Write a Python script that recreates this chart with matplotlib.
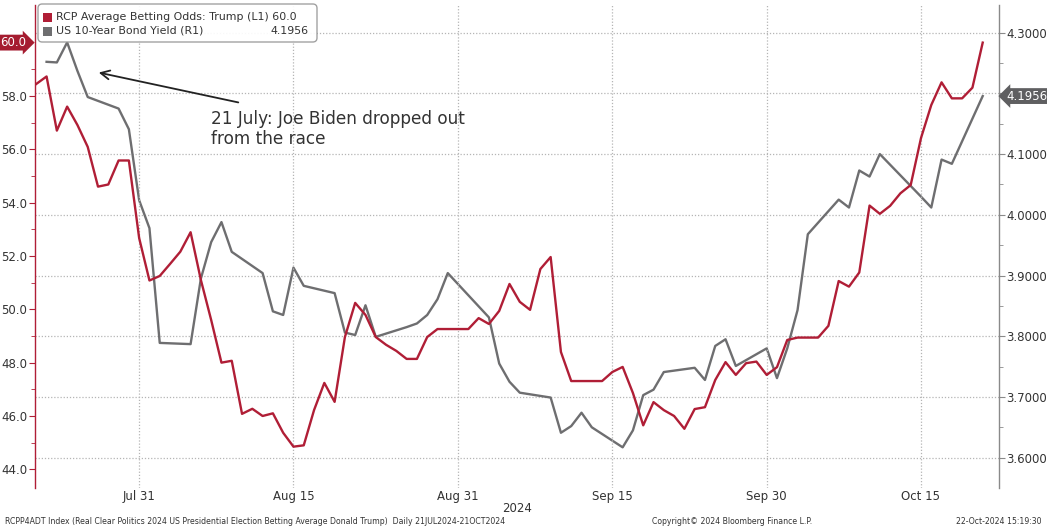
import matplotlib
matplotlib.use('Agg')
import matplotlib.pyplot as plt
import matplotlib.dates as mdates
import matplotlib.transforms as mtransforms
from matplotlib.patches import FancyBboxPatch, Rectangle
import pandas as pd

# RCP betting odds for Trump, daily 21 Jul - 21 Oct 2024
odds_start = "2024-07-21"
odds = [58.45, 58.73, 56.70, 57.60, 56.91, 56.09, 54.60, 54.68, 55.58, 55.58,
        52.67, 51.08, 51.25, 51.70, 52.16, 52.89, 51.10, 49.60, 48.00, 48.07,
        46.08, 46.27, 46.00, 46.10, 45.37, 44.85, 44.90, 46.22, 47.24, 46.53,
        48.96, 50.24, 49.79, 48.96, 48.67, 48.44, 48.14, 48.14, 48.96, 49.26,
        49.26, 49.26, 49.26, 49.67, 49.45, 49.94, 50.95, 50.28, 49.98, 51.51,
        51.96, 48.40, 47.31, 47.31, 47.31, 47.31, 47.65, 47.84, 46.86, 45.65,
        46.52, 46.22, 46.00, 45.52, 46.26, 46.33, 47.35, 48.02, 47.54, 47.98,
        48.04, 47.54, 47.83, 48.85, 48.94, 48.94, 48.94, 49.38, 51.06, 50.85,
        51.38, 53.89, 53.58, 53.88, 54.35, 54.66, 56.42, 57.66, 58.51, 57.91,
        57.91, 58.31, 60.00]

# US 10Y yield, trading days only
yield_dates = ["2024-07-22", "2024-07-23", "2024-07-24", "2024-07-25", "2024-07-26",
               "2024-07-29", "2024-07-30", "2024-07-31", "2024-08-01", "2024-08-02",
               "2024-08-05", "2024-08-06", "2024-08-07", "2024-08-08", "2024-08-09",
               "2024-08-12", "2024-08-13", "2024-08-14", "2024-08-15", "2024-08-16",
               "2024-08-19", "2024-08-20", "2024-08-21", "2024-08-22", "2024-08-23",
               "2024-08-26", "2024-08-27", "2024-08-28", "2024-08-29", "2024-08-30",
               "2024-09-03", "2024-09-04", "2024-09-05", "2024-09-06",
               "2024-09-09", "2024-09-10", "2024-09-11", "2024-09-12", "2024-09-13",
               "2024-09-16", "2024-09-17", "2024-09-18", "2024-09-19", "2024-09-20",
               "2024-09-23", "2024-09-24", "2024-09-25", "2024-09-26", "2024-09-27",
               "2024-09-30", "2024-10-01", "2024-10-02", "2024-10-03", "2024-10-04",
               "2024-10-07", "2024-10-08", "2024-10-09", "2024-10-10", "2024-10-11",
               "2024-10-15", "2024-10-16", "2024-10-17", "2024-10-18",
               "2024-10-21"]
yields = [4.252, 4.251, 4.284, 4.237, 4.194,
          4.175, 4.141, 4.024, 3.978, 3.789,
          3.787, 3.895, 3.955, 3.988, 3.939,
          3.904, 3.841, 3.835, 3.913, 3.883,
          3.871, 3.806, 3.802, 3.851, 3.799,
          3.815, 3.821, 3.835, 3.861, 3.904,
          3.831, 3.755, 3.725, 3.707,
          3.699, 3.641, 3.652, 3.674, 3.650,
          3.617, 3.645, 3.703, 3.712, 3.741,
          3.748, 3.728, 3.784, 3.795, 3.751,
          3.780, 3.731, 3.780, 3.843, 3.968,
          4.025, 4.012, 4.073, 4.063, 4.100,
          4.030, 4.012, 4.091, 4.084,
          4.1956]

xtick_dates = ["2024-07-31", "2024-08-15", "2024-08-31", "2024-09-15", "2024-09-30", "2024-10-15"]
left_ticks = [44, 46, 48, 50, 52, 54, 56, 58]
right_ticks = [3.6, 3.7, 3.8, 3.9, 4.0, 4.1, 4.2, 4.3]

RED = '#b01e36'
GRAY = '#6e6e70'
TXT = '#333333'
W, H = 1047, 531

odds_dates = pd.date_range(odds_start, periods=len(odds), freq='D')
ydates = pd.to_datetime(yield_dates)

fig = plt.figure(figsize=(W / 100, H / 100), dpi=100)
fig.patch.set_facecolor('white')
ax = fig.add_axes([35 / W, 1 - 488 / H, (999 - 35) / W, (488 - 5) / H])
ax2 = ax.twinx()
ax.set_zorder(ax2.get_zorder() + 1)
ax.patch.set_visible(False)

ax2.plot(ydates, yields, color=GRAY, lw=1.7)
ax.plot(odds_dates, odds, color=RED, lw=1.7)

x0 = pd.Timestamp("2024-07-21") - pd.Timedelta(hours=3)
x1 = pd.Timestamp("2024-10-21") + pd.Timedelta(hours=38)
ax.set_xlim(x0, x1)
ax.set_ylim(43.30, 61.41)
ax2.set_ylim(3.550, 4.3456)

# spines
for s in ['top', 'bottom', 'right']:
    ax.spines[s].set_visible(False)
    ax2.spines[s if s != 'right' else 'left'].set_visible(False)
ax.spines['left'].set_color(RED)
ax.spines['left'].set_linewidth(1.0)
ax2.spines['right'].set_color('#8a8a8a')
ax2.spines['right'].set_linewidth(1.0)

# x axis
ax.set_xticks(pd.to_datetime(xtick_dates))
ax.xaxis.set_major_formatter(mdates.DateFormatter('%b %d'))
ax.tick_params(axis='x', length=0, pad=1.5, labelsize=8.5, labelcolor=TXT)
ax.grid(axis='x', color='#b5b5b5', linestyle=(0, (1, 1.5)), lw=0.9)

# left axis
ax.set_yticks(left_ticks)
ax.set_yticks([45, 47, 49, 51, 53, 55, 57, 59], minor=True)
ax.set_yticklabels([f"{v:.1f}" for v in left_ticks])
ax.tick_params(axis='y', which='major', length=4, color=RED, labelsize=8.5,
               labelcolor=TXT, pad=1.5)
ax.tick_params(axis='y', which='minor', length=3, color=RED)

# right axis (4.2000 label sits under the last-value tag)
ax2.set_yticks(right_ticks)
ax2.set_yticks([3.65, 3.75, 3.85, 3.95, 4.05, 4.15, 4.25], minor=True)
ax2.set_yticklabels(["" if abs(v - 4.2) < 1e-9 else f"{v:.4f}" for v in right_ticks])
ax2.tick_params(axis='y', which='major', length=4, color='#8a8a8a', labelsize=8.5,
                labelcolor=TXT, pad=1.5)
ax2.tick_params(axis='y', which='minor', length=3, color='#8a8a8a')
ax2.grid(axis='y', color='#b5b5b5', linestyle=(0, (1, 1.5)), lw=0.9)
ax2.set_axisbelow(True)

# last value tags
tl = mtransforms.blended_transform_factory(ax.transAxes, ax.transData)
ax.text(-0.009, odds[-1], f"{odds[-1]:.1f}", transform=tl, ha='right', va='center',
        color='white', fontsize=8.5, clip_on=False,
        bbox=dict(boxstyle='rarrow,pad=0.12', fc='#a51c30', ec='none'))
tr = mtransforms.blended_transform_factory(ax2.transAxes, ax2.transData)
ax2.text(1.008, yields[-1], f"{yields[-1]:.4f}", transform=tr, ha='left', va='center',
         color='white', fontsize=8.5, clip_on=False,
         bbox=dict(boxstyle='larrow,pad=0.12', fc='#5f5f61', ec='none'))

# annotation
ax.annotate("", xy=(96 / W, 1 - 72 / H), xycoords='figure fraction',
            xytext=(241 / W, 1 - 103 / H), textcoords='figure fraction',
            arrowprops=dict(arrowstyle='->', color='#222222', lw=1.3,
                            mutation_scale=16))
fig.text(211 / W, 1 - 110 / H, "21 July: Joe Biden dropped out\nfrom the race",
         ha='left', va='top', fontsize=12.2, color=TXT, linespacing=1.15)

# legend box (drawn by hand to right-align values)
leg = FancyBboxPatch((38 / W, 1 - 42 / H), (317 - 38) / W, (42 - 4) / H,
                     boxstyle='round,pad=0,rounding_size=0.004',
                     mutation_aspect=W / H, transform=fig.transFigure,
                     fc='white', ec='#9a9a9a', lw=1.0, alpha=0.92, zorder=10)
fig.add_artist(leg)
for i, (col, lab, val) in enumerate([
        (RED, "RCP Average Betting Odds: Trump (L1)", f"{odds[-1]:.1f}"),
        (GRAY, "US 10-Year Bond Yield (R1)", f"{yields[-1]:.4f}")]):
    yc = 17 + 14 * i
    fig.add_artist(Rectangle((43 / W, 1 - (yc + 4.5) / H), 9 / W, 9 / H,
                             transform=fig.transFigure, fc=col, ec='none', zorder=11))
    if i == 0:
        fig.text(56 / W, 1 - yc / H, lab + " " + val, ha='left', va='center',
                 fontsize=7.9, color=TXT, zorder=12)
    else:
        fig.text(56 / W, 1 - yc / H, lab, ha='left', va='center',
                 fontsize=7.9, color=TXT, zorder=12)
        fig.text(309 / W, 1 - yc / H, val, ha='right', va='center',
                 fontsize=7.9, color=TXT, zorder=12)

# footer
fig.text(517 / W, 1 - 508 / H, "2024", ha='center', va='center', fontsize=8.5, color=TXT)
fig.text(5 / W, 1 - 521 / H,
         "RCPP4ADT Index (Real Clear Politics 2024 US Presidential Election Betting Average Donald Trump)  Daily 21JUL2024-21OCT2024",
         ha='left', va='center', fontsize=5.6, color=TXT)
fig.text(652 / W, 1 - 521 / H, "Copyright\u00a9 2024 Bloomberg Finance L.P.",
         ha='left', va='center', fontsize=5.6, color=TXT)
fig.text(1041 / W, 1 - 521 / H, "22-Oct-2024 15:19:30",
         ha='right', va='center', fontsize=5.6, color=TXT)

fig.savefig('out.png', dpi=100, facecolor='white')
plt.close(fig)
